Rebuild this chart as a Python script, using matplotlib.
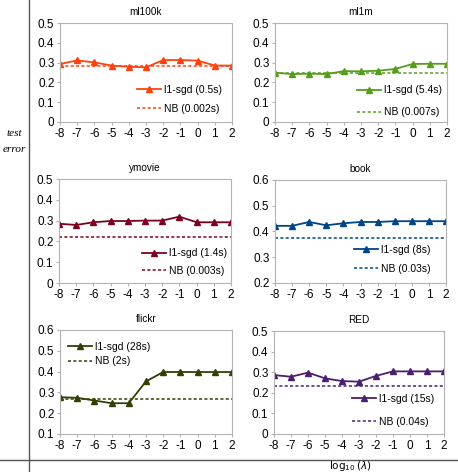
import matplotlib
matplotlib.use('Agg')
import matplotlib.pyplot as plt
from matplotlib.lines import Line2D

plt.rcParams['font.family'] = ['Liberation Sans', 'DejaVu Sans']
plt.rcParams['axes.unicode_minus'] = False

# ========================= DATA ============================================

log_lambda = [-8, -7, -6, -5, -4, -3, -2, -1, 0, 1, 2]

datasets = ['ml100k', 'ml1m', 'ymovie', 'book', 'flickr', 'RED']

sgd_ml100k = [0.293, 0.311, 0.301, 0.285, 0.279, 0.276, 0.313, 0.313, 0.310, 0.285, 0.285]
sgd_ml1m = [0.249, 0.242, 0.244, 0.242, 0.257, 0.256, 0.259, 0.268, 0.293, 0.294, 0.294]
sgd_ymovie = [0.285, 0.279, 0.292, 0.298, 0.298, 0.300, 0.300, 0.319, 0.292, 0.292, 0.292]
sgd_book = [0.422, 0.422, 0.437, 0.424, 0.432, 0.437, 0.437, 0.440, 0.440, 0.440, 0.440]
sgd_flickr = [0.277, 0.274, 0.261, 0.248, 0.248, 0.353, 0.398, 0.398, 0.398, 0.398, 0.398]
sgd_red = [0.286, 0.278, 0.298, 0.270, 0.257, 0.254, 0.282, 0.304, 0.304, 0.304, 0.304]

nb_level = [0.281, 0.249, 0.219, 0.376, 0.269, 0.235]

sgd_labels = ['l1-sgd (0.5s)', 'l1-sgd (5.4s)', 'l1-sgd (1.4s)',
              'l1-sgd (8s)', 'l1-sgd (28s)', 'l1-sgd (15s)']
nb_labels = ['NB (0.002s)', 'NB (0.007s)', 'NB (0.003s)',
             'NB (0.03s)', 'NB (2s)', 'NB (0.04s)']

y_ranges = [(0, 0.5), (0, 0.5), (0, 0.5), (0.2, 0.6), (0.1, 0.6), (0, 0.5)]

sgd_series = [sgd_ml100k, sgd_ml1m, sgd_ymovie, sgd_book, sgd_flickr, sgd_red]

# ========================= STYLE ===========================================

colors = ['#ff420e', '#579d1c', '#7e0021', '#004586', '#314004', '#4b1f6f']

W, H = 458, 472
# (left, top, right, bottom) in pixels
boxes = [(60, 23, 232, 122), (275, 23, 447, 122),
         (59, 179, 231, 283), (275, 180, 446, 283),
         (60, 330, 232, 434), (274, 331, 444, 434)]
# legend anchor (x, y center) in axes fraction, label spacing
legend_pos = [(0.45, 0.23, 0.85), (0.477, 0.21, 1.15), (0.48, 0.20, 0.75),
              (0.46, 0.23, 0.85), (0.047, 0.77, 0.45), (0.46, 0.23, 1.25)]

fig = plt.figure(figsize=(W / 100, H / 100), dpi=100)

for i, name in enumerate(datasets):
    l, t, r, b = boxes[i]
    ax = fig.add_axes([l / W, 1 - b / H, (r - l) / W, (b - t) / H])
    ax.plot(log_lambda, sgd_series[i], color=colors[i], lw=1.3,
            marker='^', ms=4.5, label=sgd_labels[i])
    ax.axhline(nb_level[i], color=colors[i], lw=1.1,
               linestyle=(0, (2, 1.5)), label=nb_labels[i])
    ax.set_xlim(-8, 2)
    lo, hi = y_ranges[i]
    ax.set_ylim(lo, hi)
    ax.set_xticks(log_lambda)
    yt = [round(lo + 0.1 * k, 1) for k in range(int(round((hi - lo) / 0.1)) + 1)]
    ax.set_yticks(yt)
    ax.set_yticklabels(['0' if v == 0 else '%.1f' % v for v in yt])
    ax.tick_params(labelsize=8.5, length=2.5, width=0.8, color='#b3b3b3', pad=1.5)
    for s in ax.spines.values():
        s.set_color('#b3b3b3')
        s.set_linewidth(0.8)
    ax.set_title(name, fontsize=7.2, pad=6)
    lx, ly, sp = legend_pos[i]
    ax.legend(loc='center left', bbox_to_anchor=(lx, ly), frameon=False,
              fontsize=7.5, borderpad=0, borderaxespad=0, handlelength=2.3,
              handletextpad=0.3, labelspacing=sp)

# frame lines and outer labels
fig.add_artist(Line2D([29 / W, 29 / W], [0, 1], color='#555555', lw=1.0))
fig.add_artist(Line2D([0, 1], [1 - 460 / H, 1 - 460 / H], color='#555555', lw=1.0))
fig.text(14 / W, 1 - 133 / H, 'test', ha='center', va='center',
         family='Liberation Serif', style='italic', fontsize=8)
fig.text(14 / W, 1 - 150 / H, 'error', ha='center', va='center',
         family='Liberation Serif', style='italic', fontsize=8)
fig.text(350 / W, 1 - 466 / H, r'$\log_{10}(\lambda)$', ha='center', va='center',
         family='Liberation Serif', fontsize=7.5)

plt.savefig('out.png', dpi=100)
